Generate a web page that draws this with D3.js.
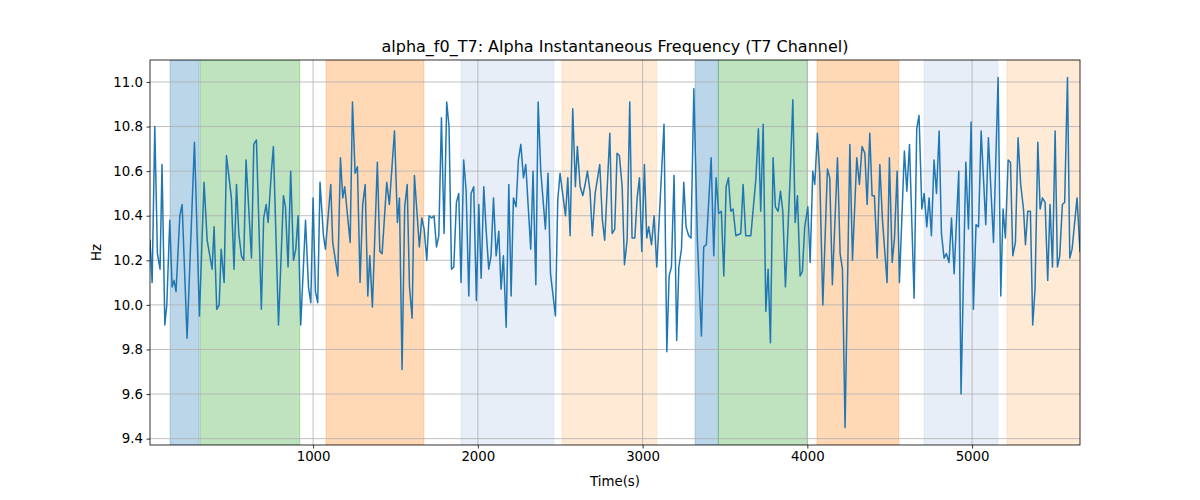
<!DOCTYPE html>
<html><head><meta charset="utf-8">
<script src="https://cdn.jsdelivr.net/npm/d3@7"></script>
<style>body{margin:0;background:#fff;} svg{display:block;font-family:"DejaVu Sans",sans-serif;}</style>
</head><body>
<svg id="chart" width="1200" height="500"></svg>
<script>
const times = [10,23,39,55,71,83,100,112,130,144,156,168,191,205,235,280,310,338,357,387,399,415,430,442,460,474,504,520,535,549,565,579,593,626,640,656,686,700,715,
727,747,759,790,820,832,848,864,881,895,909,925,954,972,986,1000,1014,1028,1042,1063,1075,1107,1119,1150,1166,1180,1192,1225,1239,1255,1269,1285,1301,1316,1332,1344,1360,1390,1405,1419,
1447,1463,1494,1512,1524,1540,1556,1571,1585,1601,1615,1645,1660,1674,1690,1704,1720,1734,1749,1763,1779,1795,1811,1825,1840,1854,1870,1884,1898,1914,1929,1945,1959,1975,1991,2006,2020,2036,2050,2066,2080,2095,2111,
2127,2141,2155,2172,2188,2202,2216,2232,2246,2261,2277,2291,2305,2321,2335,2352,2366,2382,2410,2426,2441,2471,2485,2499,2532,2546,2560,2576,2592,2604,2621,2637,2651,2665,2681,2695,2712,2740,2756,2770,2801,2815,
2831,2845,2859,2876,2890,2906,2922,2936,2953,2967,2981,2995,3011,3025,3037,3054,3070,3086,3130,3147,3161,3175,3191,3207,3220,3236,3250,3264,3280,3294,3311,3333,3357,3371,3387,3416,3432,3446,3462,3478,3493,3507,3521,
3535,3549,3566,3596,3610,3626,3657,3687,3703,3717,3732,3748,3762,3776,3792,3806,3823,3837,3851,3867,3895,3912,3926,3940,3956,3970,3984,4003,4017,4033,4045,4061,4075,4094,4122,4136,4152,4183,4199,4213,4229,
4258,4274,4300,4316,4332,4349,4363,4379,4393,4407,4424,4440,4456,4484,4498,4515,4529,4545,4559,4589,4604,4620,4648,4664,4678,4695,4709,4725,4739,4753,4769,4784,4800,4814,4830,4844,4860,4875,4891,4919,4933,
4962,4978,4994,5008,5024,5039,5055,5083,5099,5130,5158,5174,5188,5202,5219,5233,5247,5263,5279,5295,5312,5324,5338,5354,5368,5382,5399,5413,5427,5443,5459,5473,5488,5504,5518,5532,5548,5562,5579,5593,5607,5637,5655];

const values = [10.29,10.10,10.80,10.23,10.16,10.63,9.91,10.00,10.38,10.08,10.11,10.06,10.40,10.45,9.85,10.73,9.95,10.55,10.29,10.16,10.35,9.98,10.00,10.25,10.10,10.67,10.48,10.16,10.54,10.32,10.22,10.20,10.65,10.21,10.72,10.74,9.98,10.39,10.45,
10.37,10.60,10.71,9.91,10.49,10.44,10.17,10.60,10.20,10.25,10.40,9.91,10.38,10.08,10.01,10.48,10.06,10.01,10.55,10.31,10.25,10.54,10.28,10.13,10.66,10.48,10.53,10.28,10.91,10.59,10.62,10.10,10.45,10.54,10.04,10.22,9.99,10.64,10.24,10.23,
10.55,10.45,10.78,10.37,10.48,9.71,10.44,10.54,10.08,9.94,10.58,10.26,10.39,10.34,10.20,10.40,10.39,10.40,10.26,10.31,10.84,10.32,10.91,10.80,10.16,10.17,10.46,10.50,10.10,10.65,10.51,10.04,10.50,10.53,10.02,10.45,10.12,10.53,10.34,10.16,10.22,10.48,10.22,
10.33,10.07,10.22,9.90,10.54,10.04,10.48,10.44,10.65,10.72,10.57,10.63,10.45,10.25,10.60,10.09,10.91,10.60,10.34,10.59,10.14,9.95,10.47,10.59,10.40,10.57,10.31,10.88,10.53,10.71,10.53,10.49,10.54,10.60,10.51,10.31,10.50,10.63,10.38,10.29,10.77,10.32,
10.34,10.68,10.67,10.53,10.18,10.29,10.91,10.30,10.30,10.48,10.57,10.24,10.63,10.30,10.35,10.27,10.40,10.17,10.81,9.79,10.13,10.17,10.58,9.84,10.17,10.25,10.55,10.35,10.31,10.30,10.97,10.28,9.86,10.26,10.27,10.66,10.22,10.57,10.41,10.42,10.13,10.53,10.57,
10.42,10.43,10.31,10.32,10.54,10.31,10.31,10.56,10.79,10.42,10.81,9.97,10.16,9.83,10.66,10.44,10.42,10.51,10.42,10.08,10.56,10.92,10.37,10.49,10.13,10.15,10.35,10.44,10.19,10.60,10.54,10.77,10.59,10.00,10.61,10.57,10.09,10.66,10.23,10.16,9.45,
10.72,10.20,10.66,10.54,10.71,10.68,10.45,10.77,10.49,10.49,10.21,10.63,10.38,10.10,10.66,10.19,10.30,10.60,10.10,10.69,10.51,10.72,10.03,10.79,10.85,10.43,10.50,10.35,10.48,10.31,10.65,10.50,10.78,10.32,10.21,10.23,10.19,10.39,10.14,10.60,9.60,
10.64,10.34,10.82,9.98,10.36,10.35,10.78,10.36,10.75,10.28,11.02,10.04,10.43,10.30,10.65,10.64,10.22,10.28,10.75,10.54,10.43,10.27,10.42,10.42,9.91,10.07,10.73,10.43,10.48,10.46,10.11,10.45,10.17,10.78,10.17,10.22,10.45,10.46,11.02,10.21,10.25,10.48,10.24];

const spanStarts = [132, 314, 1079, 1898, 2511, 3319, 3460, 4059, 4709, 5212];
const spanEnds   = [308, 919, 1672, 2461, 3086, 3460, 4000, 4555, 5156, 5700];
const spanColors = ["#1f77b4","#2ca02c","#ff7f0e","#aec7e8","#ffbb78","#1f77b4","#2ca02c","#ff7f0e","#aec7e8","#ffbb78"];

const xTicks = [1000, 2000, 3000, 4000, 5000];
const yTicks = [9.4, 9.6, 9.8, 10.0, 10.2, 10.4, 10.6, 10.8, 11.0];

const titleText = "alpha_f0_T7: Alpha Instantaneous Frequency (T7 Channel)";
const xLabel = "Time(s)";
const yLabel = "Hz";

const W = 1200, H = 500;
const m = {left: 150, right: 120, top: 60, bottom: 55};
const iw = W - m.left - m.right, ih = H - m.top - m.bottom;

const svg = d3.select("#chart");
const g = svg.append("g").attr("transform", `translate(${m.left},${m.top})`);

const x = d3.scaleLinear().domain(d3.extent(times)).range([0, iw]);
const [vmin, vmax] = d3.extent(values);
const pad = (vmax - vmin) * 0.05;
const y = d3.scaleLinear().domain([vmin - pad, vmax + pad]).range([ih, 0]);

g.append("defs").append("clipPath").attr("id", "clip")
  .append("rect").attr("width", iw).attr("height", ih);

const plot = g.append("g").attr("clip-path", "url(#clip)");

// spans
plot.selectAll("rect.span").data(spanStarts.map((s, i) => ({s, e: spanEnds[i], c: spanColors[i]})))
  .enter().append("rect").attr("class", "span")
  .attr("x", d => x(d.s)).attr("width", d => x(d.e) - x(d.s))
  .attr("y", 0).attr("height", ih)
  .attr("fill", d => d.c).attr("fill-opacity", 0.3)
  .attr("stroke", d => d.c).attr("stroke-opacity", 0.3).attr("stroke-width", 1);

// grid
plot.selectAll("line.gx").data(xTicks).enter().append("line")
  .attr("x1", d => x(d)).attr("x2", d => x(d)).attr("y1", 0).attr("y2", ih)
  .attr("stroke", "#b0b0b0").attr("stroke-width", 0.8);
plot.selectAll("line.gy").data(yTicks).enter().append("line")
  .attr("y1", d => y(d)).attr("y2", d => y(d)).attr("x1", 0).attr("x2", iw)
  .attr("stroke", "#b0b0b0").attr("stroke-width", 0.8);

// line
const line = d3.line().x((d, i) => x(times[i])).y(d => y(d));
plot.append("path").datum(values).attr("d", line)
  .attr("fill", "none").attr("stroke", "#1f77b4").attr("stroke-width", 1.5)
  .attr("stroke-linejoin", "round").attr("stroke-linecap", "square");

// axes
const xAxis = d3.axisBottom(x).tickValues(xTicks).tickFormat(d3.format("d")).tickSize(3.5).tickPadding(3.5);
const yAxis = d3.axisLeft(y).tickValues(yTicks).tickFormat(d3.format(".1f")).tickSize(3.5).tickPadding(3.5);

const gx = g.append("g").attr("transform", `translate(0,${ih})`).call(xAxis);
const gy = g.append("g").call(yAxis);
[gx, gy].forEach(a => {
  a.select(".domain").remove();
  a.selectAll(".tick line").attr("stroke", "#000").attr("stroke-width", 0.8);
  a.selectAll(".tick text").attr("fill", "#000").style("font-size", "13.33px").style("font-family", "DejaVu Sans");
});

// frame
g.append("rect").attr("width", iw).attr("height", ih).attr("fill", "none")
  .attr("stroke", "#000").attr("stroke-width", 0.8);

// title & labels
svg.append("text").attr("x", m.left + iw / 2).attr("y", 52).attr("text-anchor", "middle")
  .style("font-size", "16px").attr("fill", "#000").text(titleText);
svg.append("text").attr("x", m.left + iw / 2).attr("y", 486).attr("text-anchor", "middle")
  .style("font-size", "13.33px").attr("fill", "#000").text(xLabel);
svg.append("text").attr("transform", `translate(101,${m.top + ih / 2}) rotate(-90)`).attr("text-anchor", "middle")
  .style("font-size", "13.33px").attr("fill", "#000").text(yLabel);
</script>
</body></html>
